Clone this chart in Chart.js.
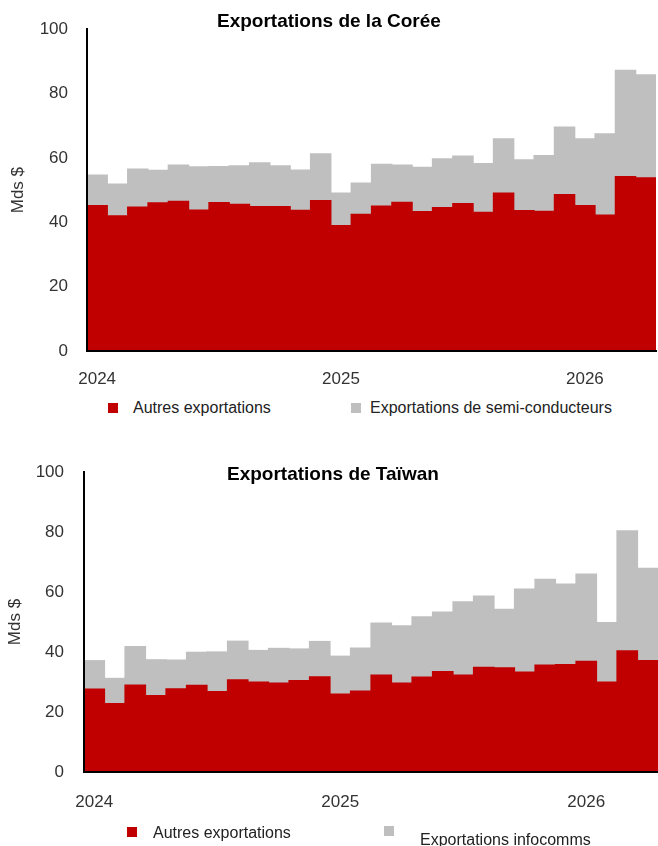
<!DOCTYPE html>
<html lang="fr">
<head>
<meta charset="utf-8">
<title>Exportations de la Corée et de Taïwan</title>
<script src="https://cdn.jsdelivr.net/npm/chart.js@4"></script>
<style>
  html, body { margin: 0; padding: 0; background: #fff; }
  body { width: 658px; height: 846px; position: relative; overflow: hidden;
         font-family: "Liberation Sans", Arial, sans-serif; }
  .box { position: absolute; left: 0; }
  .title { position: absolute; font-weight: bold; font-size: 19px; line-height: 22px; color: #000; white-space: nowrap; }
  .sq { position: absolute; width: 10px; height: 10px; }
  .lg { position: absolute; font-size: 16px; line-height: 18px; color: #222; white-space: nowrap; }
</style>
</head>
<body>
<div class="box" style="top:0;width:658px;height:395px"><canvas id="korea" width="658" height="395"></canvas></div>
<div class="box" style="top:440px;width:658px;height:406px"><canvas id="taiwan" width="658" height="406"></canvas></div>

<div class="title" style="left:217px;top:10px">Exportations de la Corée</div>
<div class="title" style="left:227px;top:463px">Exportations de Taïwan</div>

<div class="sq" style="left:108px;top:403px;background:#c00000"></div>
<div class="lg" style="left:133px;top:399px">Autres exportations</div>
<div class="sq" style="left:351px;top:403px;background:#bfbfbf"></div>
<div class="lg" style="left:370px;top:399px">Exportations de semi-conducteurs</div>

<div class="sq" style="left:127px;top:827px;background:#c00000"></div>
<div class="lg" style="left:153px;top:824px">Autres exportations</div>
<div class="sq" style="left:384px;top:826px;background:#bfbfbf"></div>
<div class="lg" style="left:420px;top:831px">Exportations infocomms</div>

<script>
// mois, janv. 2024 -> avr. 2026
const months = [
  '2024-01','2024-02','2024-03','2024-04','2024-05','2024-06','2024-07','2024-08','2024-09','2024-10','2024-11','2024-12',
  '2025-01','2025-02','2025-03','2025-04','2025-05','2025-06','2025-07','2025-08','2025-09','2025-10','2025-11','2025-12',
  '2026-01','2026-02','2026-03','2026-04'
];

// Corée, Mds $
const koreaOther = [45.2, 42.0, 44.7, 46.0, 46.5, 43.8, 46.1, 45.6, 44.9, 44.9, 43.7, 46.7,
                    39.0, 42.5, 45.0, 46.2, 43.3, 44.6, 45.8, 43.1, 49.1, 43.6, 43.4, 48.6,
                    45.2, 42.2, 54.2, 53.8];
const koreaSemis = [9.5, 9.9, 11.8, 10.1, 11.3, 13.4, 11.2, 11.9, 13.6, 12.6, 12.5, 14.6,
                    10.1, 9.7, 13.0, 11.6, 13.8, 15.1, 14.8, 15.1, 16.8, 15.8, 17.3, 21.0,
                    20.7, 25.3, 33.0, 32.0];

// Taïwan, Mds $
const taiwanOther = [27.6, 22.8, 29.0, 25.5, 27.7, 28.9, 26.8, 30.7, 30.0, 29.6, 30.5, 31.7,
                     26.0, 27.0, 32.3, 29.6, 31.6, 33.5, 32.3, 34.9, 34.7, 33.3, 35.6, 35.8,
                     36.9, 30.0, 40.4, 37.1];
const taiwanInfocomm = [9.5, 8.4, 12.8, 11.9, 9.6, 11.0, 13.2, 12.9, 10.5, 11.6, 10.5, 11.8,
                        12.6, 14.3, 17.3, 19.1, 20.1, 19.8, 24.4, 23.7, 19.5, 27.7, 28.6, 26.8,
                        29.1, 19.8, 40.0, 30.8];

const yMin = 0, yMax = 100, yStep = 20;

const RED = '#c00000';
const GREY = '#bfbfbf';
const TEXT = '#333333';
const FONT = '"Liberation Sans", Arial, sans-serif';

function makeChart(id, other, second, secondLabel, geo) {
  const ctx = document.getElementById(id).getContext('2d');
  return new Chart(ctx, {
    type: 'bar',
    data: {
      labels: months,
      datasets: [
        { label: 'Autres exportations', data: other, backgroundColor: RED,
          barPercentage: 1, categoryPercentage: 1, borderWidth: 0, inflateAmount: 0.6 },
        { label: secondLabel, data: second, backgroundColor: GREY,
          barPercentage: 1, categoryPercentage: 1, borderWidth: 0, inflateAmount: 0.6 }
      ]
    },
    options: {
      responsive: false,
      devicePixelRatio: 1,
      animation: false,
      layout: { padding: { top: geo.top, right: geo.right, left: 0, bottom: 0 } },
      plugins: { legend: { display: false }, tooltip: { enabled: false } },
      scales: {
        x: {
          stacked: true,
          grid: { display: false, drawTicks: false },
          border: { display: true, color: '#000', width: 2, z: 1 },
          ticks: {
            autoSkip: false, maxRotation: 0, padding: geo.xPad,
            color: TEXT, font: { family: FONT, size: 17 },
            callback: function (val) {
              const m = months[val];
              return m.endsWith('-01') ? m.slice(0, 4) : null;
            }
          },
          afterFit: s => { s.height = geo.xHeight; }
        },
        y: {
          stacked: true,
          min: yMin, max: yMax,
          grid: { display: false, drawTicks: false },
          border: { display: true, color: '#000', width: 2, z: 1 },
          ticks: { stepSize: yStep, padding: geo.yPad, color: TEXT, font: { family: FONT, size: 17 } },
          title: { display: true, text: 'Mds $', color: TEXT, font: { family: FONT, size: 17 },
                   padding: { top: geo.titlePad, bottom: 0 } },
          afterFit: s => { s.width = geo.left; }
        }
      }
    }
  });
}

makeChart('korea', koreaOther, koreaSemis, 'Exportations de semi-conducteurs',
  { top: 19, right: 2, left: 87, xHeight: 44, xPad: 18, yPad: 19, titlePad: 8 });
makeChart('taiwan', taiwanOther, taiwanInfocomm, 'Exportations infocomms',
  { top: 32, right: -3, left: 84, xHeight: 74, xPad: 20, yPad: 20, titlePad: 5 });
</script>
</body>
</html>
